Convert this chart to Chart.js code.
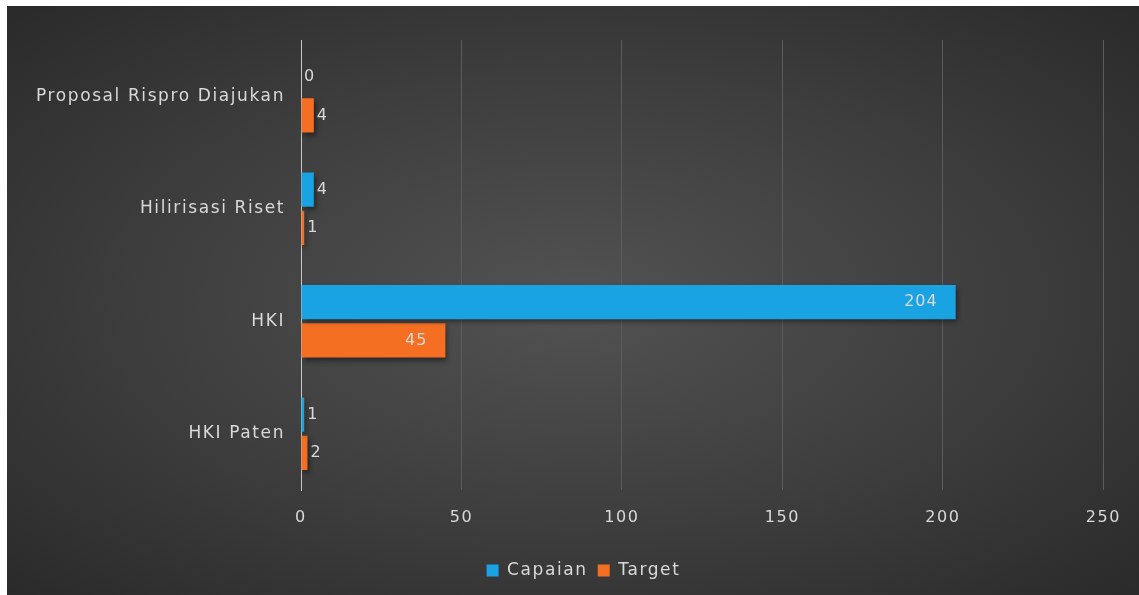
<!DOCTYPE html>
<html>
<head>
<meta charset="utf-8">
<script src="https://cdn.jsdelivr.net/npm/chart.js@4"></script>
<style>
  html, body { margin: 0; padding: 0; background: #fff; }
  #wrap {
    position: absolute; left: 7px; top: 6px; width: 1132px; height: 589px;
    background: radial-gradient(ellipse at 50% 50%, #525252 0%, #3d3d3d 55%, #2a2a2a 100%);
  }
</style>
</head>
<body>
<div id="wrap"><canvas id="hkiChart" width="1132" height="589"></canvas></div>
<script>
const categories = ['Proposal Rispro Diajukan', 'Hilirisasi Riset', 'HKI', 'HKI Paten'];
const capaian = [0, 4, 204, 1];
const target = [4, 1, 45, 2];
const xTicks = [0, 50, 100, 150, 200, 250];

const textColor = '#d9d9d9';
const fontFamily = "'DejaVu Sans', sans-serif";

// the picture's text is spaced out a bit
const spacing = {
    id: 'spacing',
    beforeUpdate(chart) { chart.ctx.letterSpacing = '1.6px'; },
    beforeDraw(chart) { chart.ctx.letterSpacing = '1.6px'; }
};

// legend sits a little right of centre in the picture
const legendShift = {
    id: 'legendShift',
    afterLayout(chart) {
        chart.legend.left += 25;
        chart.legend.right += 25;
    }
};

// values next to / inside the bars
const barLabels = {
    id: 'barLabels',
    afterDatasetsDraw(chart) {
        const ctx = chart.ctx;
        ctx.save();
        ctx.letterSpacing = '1px';
        ctx.font = '16px ' + fontFamily;
        ctx.fillStyle = textColor;
        ctx.textBaseline = 'middle';
        chart.data.datasets.forEach((ds, i) => {
            chart.getDatasetMeta(i).data.forEach((bar, j) => {
                const v = ds.data[j];
                if (v > 20) {
                    ctx.textAlign = 'right';
                    ctx.fillText(v, bar.x - 18, bar.y);
                } else {
                    ctx.textAlign = 'left';
                    ctx.fillText(v, bar.x + 3, bar.y);
                }
            });
        });
        ctx.restore();
    }
};

// soft shadow under the bars
const barShadow = {
    id: 'barShadow',
    beforeDatasetsDraw(chart) {
        const ctx = chart.ctx;
        ctx.save();
        ctx.shadowColor = 'rgba(0,0,0,0.45)';
        ctx.shadowBlur = 5;
        ctx.shadowOffsetX = 2;
        ctx.shadowOffsetY = 3;
    },
    afterDatasetsDraw(chart) {
        chart.ctx.restore();
    }
};

const ctx = document.getElementById('hkiChart').getContext('2d');
const hkiChart = new Chart(ctx, {
    type: 'bar',
    data: {
        labels: categories,
        datasets: [{
            label: 'Capaian',
            data: capaian,
            backgroundColor: '#19a3e3',
            categoryPercentage: 0.68,
            barPercentage: 0.9
        }, {
            label: 'Target',
            data: target,
            backgroundColor: '#f46f22',
            categoryPercentage: 0.68,
            barPercentage: 0.9
        }]
    },
    options: {
        indexAxis: 'y',
        responsive: false,
        animation: false,
        layout: { padding: { top: 34, right: 29, bottom: 6, left: 0 } },
        scales: {
            x: {
                min: 0,
                max: 250,
                afterBuildTicks: scale => { scale.ticks = xTicks.map(v => ({ value: v })); },
                grid: { color: '#5c5c5c', lineWidth: 1, drawTicks: false },
                border: { display: false },
                ticks: { color: textColor, padding: 18, font: { size: 16, family: fontFamily } },
                afterFit: scale => { scale.height = 62; }
            },
            y: {
                grid: { display: false },
                border: { display: true, color: '#c8c8c8', width: 1 },
                ticks: { color: textColor, padding: 8, font: { size: 17, family: fontFamily } },
                afterFit: scale => { scale.width = 294; }
            }
        },
        plugins: {
            legend: {
                position: 'bottom',
                labels: {
                    color: textColor,
                    boxWidth: 12,
                    boxHeight: 12,
                    padding: 10,
                    font: { size: 17, family: fontFamily }
                }
            },
            tooltip: { enabled: false }
        }
    },
    plugins: [spacing, legendShift, barShadow, barLabels]
});
</script>
</body>
</html>
